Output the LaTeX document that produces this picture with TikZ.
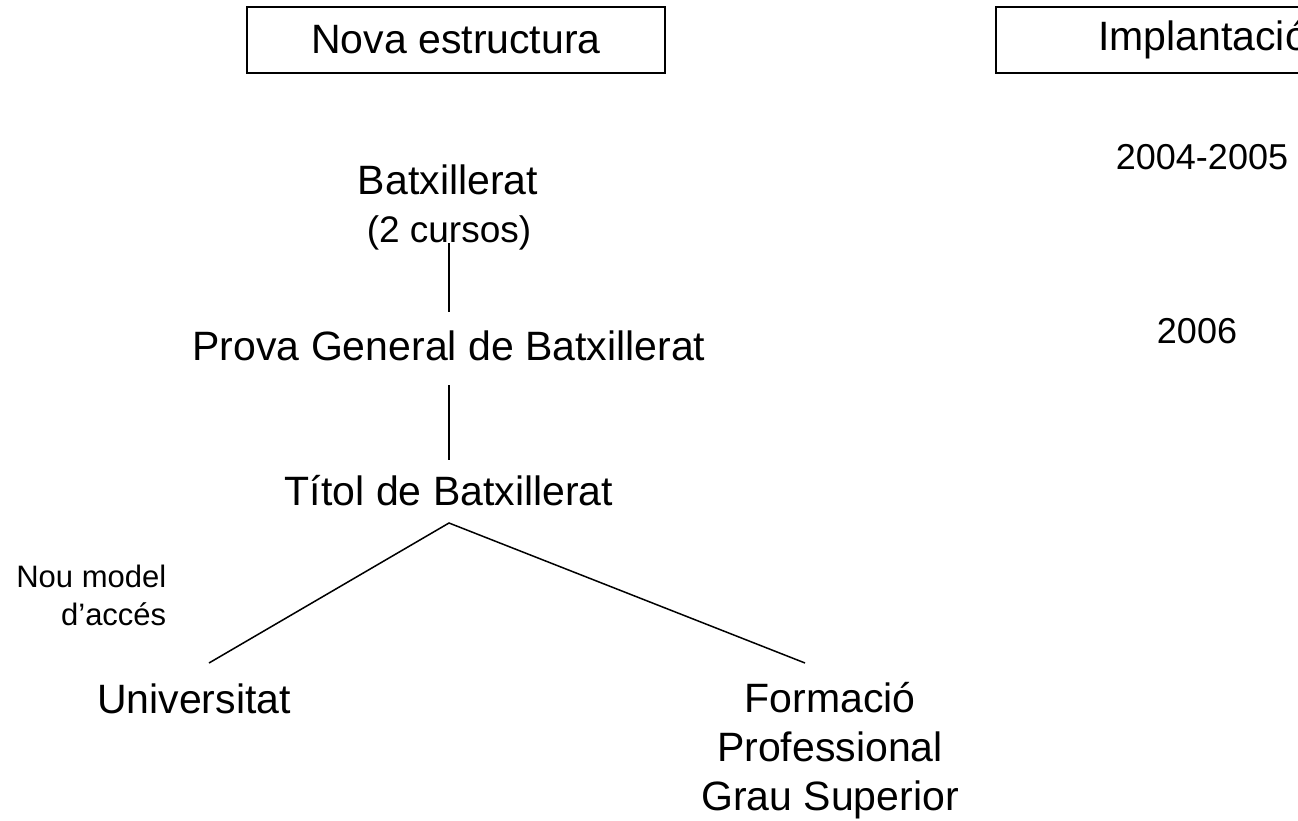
\documentclass[tikz,border=0pt]{standalone}
\usepackage{fontspec}
\setmainfont{Liberation Sans}
\usetikzlibrary{positioning}

\begin{document}
\begin{tikzpicture}[x = 1pt, y = -1pt, line width = 1.5pt,
	big/.style = {font = \fontsize{41}{49}\selectfont, inner sep = 0pt},
	mid/.style = {font = \fontsize{37}{44}\selectfont, inner sep = 0pt},
	year/.style = {font = \fontsize{36}{43}\selectfont, inner sep = 0pt, anchor = base},
	small/.style = {font = \fontsize{31}{38}\selectfont, inner sep = 0pt},
	titlebox/.style = {big, draw, line width = 1.6pt, minimum height = 66pt}]
	\useasboundingbox (0,0) rectangle (1298,821);
	\clip (0,0) rectangle (1298,821);
	
	% headers
	\node[titlebox, minimum width = 418pt] (nova) at (456,40) {Nova estructura};
	\node[titlebox, minimum width = 414pt] (impl) at (1203,40) {Implantació};
	
	% years
	\node[year] (y1) at (1202,170) {2004-2005};
	\node[year] (y2) at (1197,343) {2006};
	
	% levels
	\node[big, anchor = base] (bat) at (448,195) {Batxillerat};
	\node[mid, anchor = base] (bat2) at (449,242) {(2 cursos)};
	\node[big, anchor = base] (prova) at (449,360) {Prova General de Batxillerat};
	\node[big, anchor = base] (titol) at (449,505) {Títol de Batxillerat};
	\node[big, anchor = base] (univ) at (194,713) {Universitat};
	\node[big, anchor = north, align = center] (fp) at (830,682) {Formació\\Professional\\Grau Superior};
	\node[small, anchor = north east, align = right] (acces) at (167,564) {Nou model\\d’accés};
	
	% connectors
	\draw ([yshift = -1pt]bat2.base) -- ([yshift = 48pt]prova.base);
	\draw ([yshift = -25pt]prova.base) -- ([yshift = 45pt]titol.base);
	\draw ([xshift = 15pt, yshift = 50pt]univ.base) -- ([yshift = -18pt]titol.base)
		-- ([xshift = -25pt, yshift = 19pt]fp.north);
	
\end{tikzpicture}
\end{document}
